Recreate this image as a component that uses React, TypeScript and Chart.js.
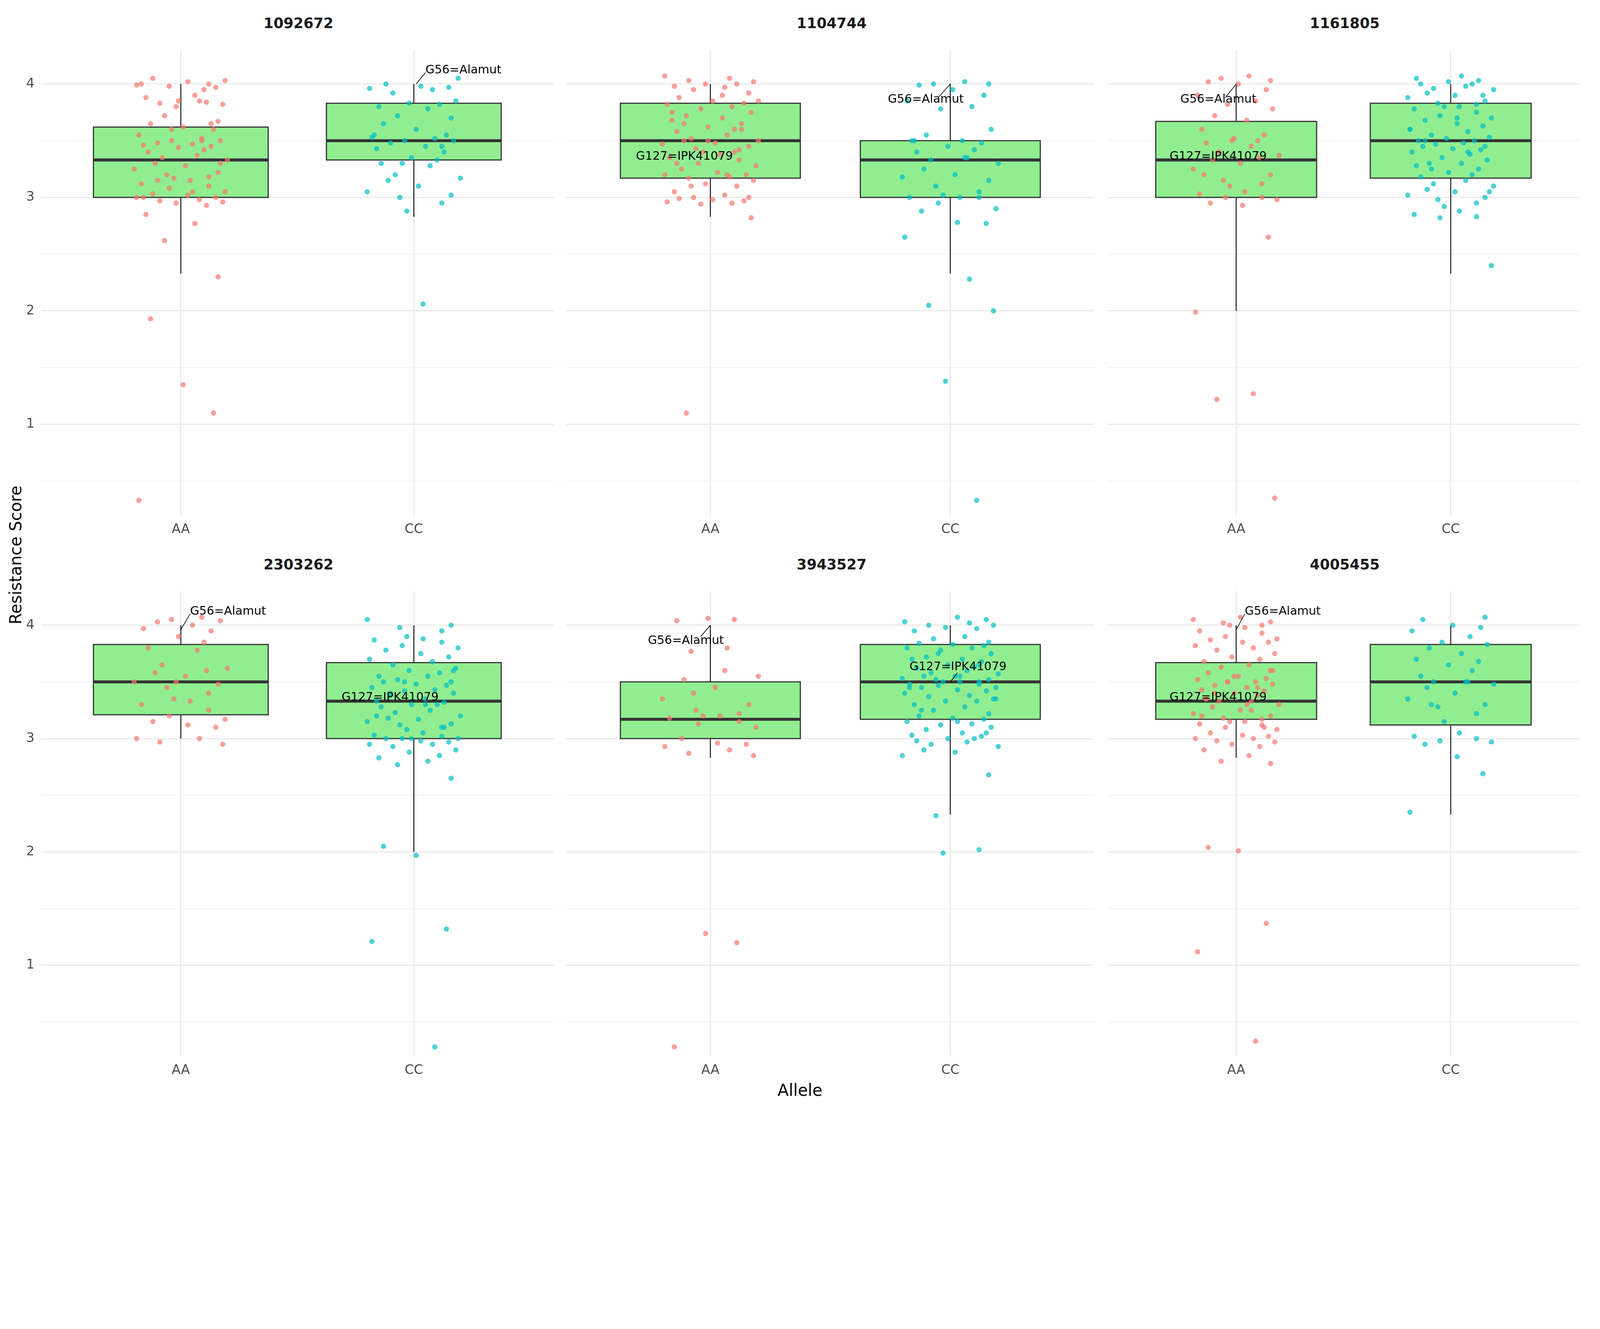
import React, { useEffect, useRef } from "react";
import { Chart, registerables } from "chart.js";
Chart.register(...registerables);

const panelTitles = ["1092672", "1104744", "1161805", "2303262", "3943527", "4005455"];
const alleles = ["AA", "CC"];
// [lower whisker, q1, median, q3, upper whisker] per panel: AA, CC
const boxAA = [[2.33,3,3.33,3.62,4],[2.83,3.17,3.5,3.83,4],[2,3,3.33,3.67,4],[3,3.21,3.5,3.83,4],[2.83,3,3.17,3.5,4],[2.83,3.17,3.33,3.67,4]];
const boxCC = [[2.83,3.33,3.5,3.83,4],[2.33,3,3.33,3.5,4],[2.33,3.17,3.5,3.83,4],[2,3,3.33,3.67,4],[2.33,3.17,3.5,3.83,4],[2.33,3.12,3.5,3.83,4]];

const p1AA = [4.0,4.0,3.98,4.03,4.05,4.02,3.97,3.99,3.85,3.83,3.82,3.8,3.84,3.88,3.9,3.72,3.67,3.65,3.62,3.6,3.55,3.52,3.5,3.5,3.48,3.47,3.46,3.45,3.44,3.42,3.4,3.37,3.35,3.33,3.3,3.28,3.25,3.22,3.2,3.18,3.17,3.15,3.12,3.1,3.08,3.05,3.03,3.02,3.0,3.0,2.98,2.97,2.96,2.95,2.93,2.85,2.77,2.62,2.3,1.93,1.35,1.1,0.33,3.5,3.6,3.3,3.15,3.05,3.0,3.65,3.85,3.95];
const p1CC = [4.05,4.0,3.98,3.97,3.96,3.95,3.92,3.85,3.83,3.82,3.8,3.78,3.72,3.7,3.65,3.6,3.55,3.53,3.52,3.5,3.5,3.48,3.45,3.43,3.4,3.35,3.33,3.3,3.28,3.2,3.17,3.15,3.1,3.05,3.02,3.0,2.95,2.88,2.06,3.55,3.45,3.3];
const p2AA = [4.07,4.05,4.03,4.02,4.0,4.0,3.98,3.97,3.95,3.92,3.88,3.85,3.83,3.82,3.8,3.78,3.75,3.72,3.7,3.68,3.65,3.62,3.6,3.58,3.55,3.52,3.5,3.5,3.48,3.47,3.45,3.43,3.42,3.4,3.38,3.35,3.33,3.3,3.28,3.25,3.22,3.2,3.2,3.18,3.17,3.15,3.12,3.1,3.05,3.02,3.0,3.0,2.99,2.98,2.97,2.96,2.95,2.94,2.82,1.1,3.9,3.75,3.6,3.5,3.4,3.3,3.2,3.1,3.85,3.65];
const p2CC = [4.02,4.0,4.0,3.99,3.95,3.9,3.85,3.8,3.78,3.6,3.55,3.5,3.5,3.48,3.45,3.42,3.4,3.35,3.33,3.3,3.25,3.2,3.18,3.15,3.1,3.05,3.02,3.0,3.0,3.0,2.95,2.9,2.88,2.78,2.77,2.65,2.28,2.05,2.0,1.38,0.33,3.5,3.35];
const p3AA = [4.07,4.05,4.03,4.02,4.0,3.95,3.9,3.85,3.82,3.78,3.72,3.68,3.6,3.55,3.52,3.5,3.48,3.45,3.4,3.37,3.33,3.3,3.25,3.2,3.15,3.12,3.1,3.05,3.03,3.0,3.0,2.98,2.95,2.93,2.65,1.99,1.27,1.22,0.35,3.5,3.35,3.2];
const p3CC = [4.07,4.05,4.03,4.02,4.0,4.0,3.98,3.96,3.95,3.92,3.9,3.88,3.85,3.83,3.82,3.8,3.8,3.78,3.75,3.72,3.7,3.68,3.65,3.63,3.6,3.58,3.55,3.53,3.52,3.5,3.5,3.48,3.47,3.45,3.45,3.43,3.42,3.4,3.38,3.35,3.33,3.3,3.3,3.28,3.25,3.22,3.2,3.18,3.15,3.12,3.1,3.07,3.05,3.02,3.0,2.98,2.95,2.92,2.88,2.85,2.83,2.82,2.4,3.5,3.7,3.9,3.6,3.4,3.25,3.05];
const p4AA = [4.07,4.05,4.04,4.03,4.0,3.97,3.95,3.9,3.85,3.8,3.78,3.65,3.62,3.58,3.55,3.5,3.48,3.45,3.4,3.35,3.33,3.3,3.25,3.2,3.17,3.15,3.12,3.1,3.0,3.0,2.97,2.95,3.5,3.6];
const p4CC = [4.05,4.0,3.98,3.95,3.9,3.88,3.87,3.85,3.82,3.8,3.78,3.75,3.72,3.7,3.68,3.65,3.62,3.6,3.58,3.55,3.55,3.52,3.5,3.5,3.48,3.47,3.45,3.43,3.42,3.4,3.38,3.35,3.33,3.32,3.3,3.3,3.28,3.25,3.23,3.2,3.18,3.17,3.15,3.13,3.12,3.1,3.08,3.05,3.03,3.02,3.0,3.0,3.0,2.98,2.97,2.95,2.95,2.93,2.9,2.88,2.85,2.83,2.8,2.77,2.65,2.05,1.97,1.32,1.21,0.28,3.5,3.6,3.4,3.3,3.2,3.1,3.0];
const p5AA = [4.06,4.05,4.04,3.8,3.77,3.55,3.52,3.45,3.35,3.3,3.25,3.22,3.2,3.2,3.18,3.15,3.13,3.1,3.0,2.96,2.95,2.93,2.9,2.87,2.85,1.28,1.2,0.28,3.6,3.4];
const p5CC = [4.07,4.05,4.03,4.02,4.0,4.0,3.98,3.97,3.95,3.9,3.88,3.85,3.84,3.83,3.82,3.8,3.8,3.78,3.75,3.72,3.7,3.7,3.68,3.65,3.63,3.62,3.6,3.58,3.57,3.55,3.55,3.53,3.52,3.52,3.5,3.5,3.5,3.48,3.48,3.47,3.45,3.45,3.43,3.42,3.4,3.38,3.37,3.35,3.33,3.33,3.3,3.28,3.25,3.22,3.2,3.18,3.17,3.15,3.13,3.12,3.1,3.08,3.05,3.03,3.02,3.0,3.0,2.98,2.97,2.95,2.93,2.9,2.88,2.85,2.68,2.32,2.02,1.99,3.55,3.45,3.65,3.75,3.35,3.25,3.15,3.05];
const p6AA = [4.07,4.05,4.03,4.02,4.0,4.0,3.98,3.95,3.93,3.9,3.88,3.87,3.85,3.85,3.82,3.8,3.78,3.75,3.72,3.7,3.68,3.65,3.63,3.6,3.58,3.55,3.53,3.52,3.5,3.5,3.48,3.47,3.45,3.43,3.42,3.4,3.38,3.35,3.33,3.33,3.3,3.28,3.25,3.22,3.2,3.18,3.17,3.15,3.15,3.13,3.12,3.1,3.08,3.05,3.03,3.02,3.0,3.0,2.98,2.97,2.95,2.93,2.9,2.85,2.8,2.78,2.04,2.01,1.37,1.12,0.33,3.5,3.6,3.4,3.3,3.2,3.1,3.55,3.45,3.35,3.25];
const p6CC = [4.07,4.05,4.0,3.98,3.95,3.9,3.85,3.83,3.8,3.75,3.7,3.68,3.65,3.6,3.55,3.5,3.5,3.48,3.45,3.4,3.35,3.3,3.28,3.22,3.15,3.05,3.02,3.0,2.98,2.97,2.95,2.84,2.69,2.35,3.5,3.3];
const pointsAA = [p1AA, p2AA, p3AA, p4AA, p5AA, p6AA];
const pointsCC = [p1CC, p2CC, p3CC, p4CC, p5CC, p6CC];
// horizontal jitter offsets
const jitter = [-0.17,0.12,-0.05,0.19,-0.12,0.03,0.15,-0.19,0.08,-0.09,0.18,-0.02,0.11,-0.15,0.06,-0.07,0.16,-0.13,0.01,0.14,-0.18,0.09,-0.04,0.17,-0.1,0.05,-0.16,0.13,-0.01,0.1,-0.14,0.07,-0.08,0.2,-0.11,0.02,-0.2,0.16,-0.06,0.12,-0.03,0.04];
// annotations: [panel, label, textX, textY, fromX, fromY, toX, toY]
const notes: [number, string, number, number, number, number, number, number][] = [
  [0, "G56=Alamut", 2.05, 4.12, 2.01, 4.0, 2.05, 4.1],
  [1, "G56=Alamut", 1.74, 3.86, 1.95, 3.88, 2.0, 4.0],
  [1, "G127=IPK41079", 0.69, 3.36, 0.69, 3.36, 0.69, 3.36],
  [2, "G56=Alamut", 0.74, 3.86, 0.95, 3.88, 1.0, 4.0],
  [2, "G127=IPK41079", 0.69, 3.36, 0.69, 3.36, 0.69, 3.36],
  [3, "G56=Alamut", 1.04, 4.12, 1.0, 3.96, 1.04, 4.1],
  [3, "G127=IPK41079", 1.69, 3.36, 1.69, 3.36, 1.69, 3.36],
  [4, "G56=Alamut", 0.74, 3.86, 0.96, 3.9, 1.0, 4.0],
  [4, "G127=IPK41079", 1.83, 3.63, 2.0, 3.5, 2.03, 3.58],
  [5, "G56=Alamut", 1.04, 4.12, 1.0, 3.96, 1.04, 4.1],
  [5, "G127=IPK41079", 0.69, 3.36, 0.69, 3.36, 0.69, 3.36],
];
const yTicks = [0.5, 1, 1.5, 2, 2.5, 3, 3.5, 4];

const FONT = "'DejaVu Sans', sans-serif";
const colX = [[125, 1703], [1734, 3359], [3391, 4844]];
const rowY = [[109, 1578], [1766, 3234]];
const Y_AXIS_W = 110;
const X_AXIS_H = 110;

function Panel({ idx, s }: { idx: number; s: number }) {
  const ref = useRef<HTMLCanvasElement>(null);
  const col = idx % 3, row = Math.floor(idx / 3);
  const yw = Y_AXIS_W;
  const left = (colX[col][0] - yw) * s;
  const width = (colX[col][1] - colX[col][0] + yw) * s;
  const top = rowY[row][0] * s;
  const height = (rowY[row][1] - rowY[row][0] + X_AXIS_H) * s;
  useEffect(() => {
    const mk = (ys: number[], g: number, sh: number) =>
      ys.map((y, i) => ({ x: g + jitter[(i + sh) % jitter.length], y }));
    const boxPlugin = {
      id: "box",
      beforeDatasetsDraw(chart: any) {
        const { ctx, scales } = chart;
        const xs = scales.x, ys = scales.y;
        [boxAA[idx], boxCC[idx]].forEach((b, g) => {
          const cx = xs.getPixelForValue(g + 1);
          const x0 = xs.getPixelForValue(g + 1 - 0.375);
          const x1 = xs.getPixelForValue(g + 1 + 0.375);
          ctx.save();
          ctx.strokeStyle = "#333333";
          ctx.lineWidth = 3.5 * s;
          ctx.beginPath();
          ctx.moveTo(cx, ys.getPixelForValue(b[0]));
          ctx.lineTo(cx, ys.getPixelForValue(b[1]));
          ctx.moveTo(cx, ys.getPixelForValue(b[3]));
          ctx.lineTo(cx, ys.getPixelForValue(b[4]));
          ctx.stroke();
          const yq1 = ys.getPixelForValue(b[1]), yq3 = ys.getPixelForValue(b[3]);
          ctx.fillStyle = "#90EE90";
          ctx.fillRect(x0, yq3, x1 - x0, yq1 - yq3);
          ctx.strokeRect(x0, yq3, x1 - x0, yq1 - yq3);
          ctx.lineWidth = 9 * s;
          ctx.beginPath();
          const ym = ys.getPixelForValue(b[2]);
          ctx.moveTo(x0, ym);
          ctx.lineTo(x1, ym);
          ctx.stroke();
          ctx.restore();
        });
      },
      afterDatasetsDraw(chart: any) {
        const { ctx, scales } = chart;
        const xs = scales.x, ys = scales.y;
        ctx.save();
        ctx.font = `${36 * s}px ${FONT}`;
        ctx.fillStyle = "#000";
        ctx.strokeStyle = "#000";
        ctx.lineWidth = 2 * s;
        ctx.textBaseline = "middle";
        notes.filter((n) => n[0] === idx).forEach((n) => {
          if (n[4] !== n[6] || n[5] !== n[7]) {
            ctx.beginPath();
            ctx.moveTo(xs.getPixelForValue(n[4]), ys.getPixelForValue(n[5]));
            ctx.lineTo(xs.getPixelForValue(n[6]), ys.getPixelForValue(n[7]));
            ctx.stroke();
          }
          ctx.fillText(n[1], xs.getPixelForValue(n[2]), ys.getPixelForValue(n[3]));
        });
        ctx.restore();
      },
    };
    const chart = new Chart(ref.current!, {
      type: "scatter",
      data: {
        datasets: [
          { data: mk(pointsAA[idx], 1, idx * 7), backgroundColor: "rgba(248,118,109,0.7)", borderWidth: 0, pointRadius: 8 * s },
          { data: mk(pointsCC[idx], 2, idx * 11 + 3), backgroundColor: "rgba(0,191,196,0.7)", borderWidth: 0, pointRadius: 8 * s },
        ],
      },
      options: {
        animation: false,
        responsive: false,
        layout: { padding: 0 },
        plugins: { legend: { display: false }, tooltip: { enabled: false } },
        scales: {
          x: {
            type: "linear", min: 0.4, max: 2.6,
            afterBuildTicks: (sc: any) => { sc.ticks = [{ value: 1 }, { value: 2 }]; },
            afterFit: (sc: any) => { sc.height = X_AXIS_H * s; },
            ticks: { autoSkip: false, maxRotation: 0, callback: (v: any) => alleles[Number(v) - 1], font: { size: 40 * s, family: FONT }, color: "#4d4d4d", padding: 20 * s },
            grid: { color: "#EBEBEB", lineWidth: 4 * s, drawTicks: false },
            border: { display: false },
          },
          y: {
            min: 0.2, max: 4.3,
            afterBuildTicks: (sc: any) => { sc.ticks = yTicks.map((v) => ({ value: v })); },
            afterFit: (sc: any) => { sc.width = yw * s; },
            ticks: {
              autoSkip: false,
              callback: (v: any) => (Number.isInteger(Number(v)) ? String(v) : ""),
              font: { size: 40 * s, family: FONT }, color: col === 0 ? "#4d4d4d" : "rgba(0,0,0,0)", padding: 20 * s,
            },
            grid: {
              color: (c: any) => (Number.isInteger(c.tick?.value) ? "#EBEBEB" : "#F3F3F3"),
              lineWidth: (c: any) => (Number.isInteger(c.tick?.value) ? 4 * s : 2.5 * s),
              drawTicks: false,
            },
            border: { display: false },
          },
        },
      },
      plugins: [boxPlugin],
    } as any);
    return () => chart.destroy();
  }, [idx, s]);
  return (
    <>
      <div style={{ position: "absolute", left: colX[col][0] * s, width: (colX[col][1] - colX[col][0]) * s, top: top - 62 * s, textAlign: "center", fontFamily: FONT, fontWeight: "bold", fontSize: 44 * s, color: "#1a1a1a", lineHeight: `${50 * s}px` }}>
        {panelTitles[idx]}
      </div>
      <canvas ref={ref} width={width} height={height} style={{ position: "absolute", left, top, width, height }} />
    </>
  );
}

export default function App() {
  const s = (typeof window !== "undefined" ? window.innerWidth : 4899) / 4899;
  return (
    <div style={{ position: "relative", width: 4899 * s, height: 3403 * s, background: "#fff", margin: -8, overflow: "hidden" }}>
      {[0, 1, 2, 3, 4, 5].map((i) => <Panel key={i} idx={i} s={s} />)}
      <div style={{ position: "absolute", left: 48 * s, top: 1700 * s, transform: "translate(-50%,-50%) rotate(-90deg)", fontFamily: FONT, fontSize: 50 * s, whiteSpace: "nowrap", color: "#000" }}>
        Resistance Score
      </div>
      <div style={{ position: "absolute", left: 0, width: 4899 * s, top: 3310 * s, textAlign: "center", fontFamily: FONT, fontSize: 50 * s, color: "#000" }}>
        Allele
      </div>
    </div>
  );
}
